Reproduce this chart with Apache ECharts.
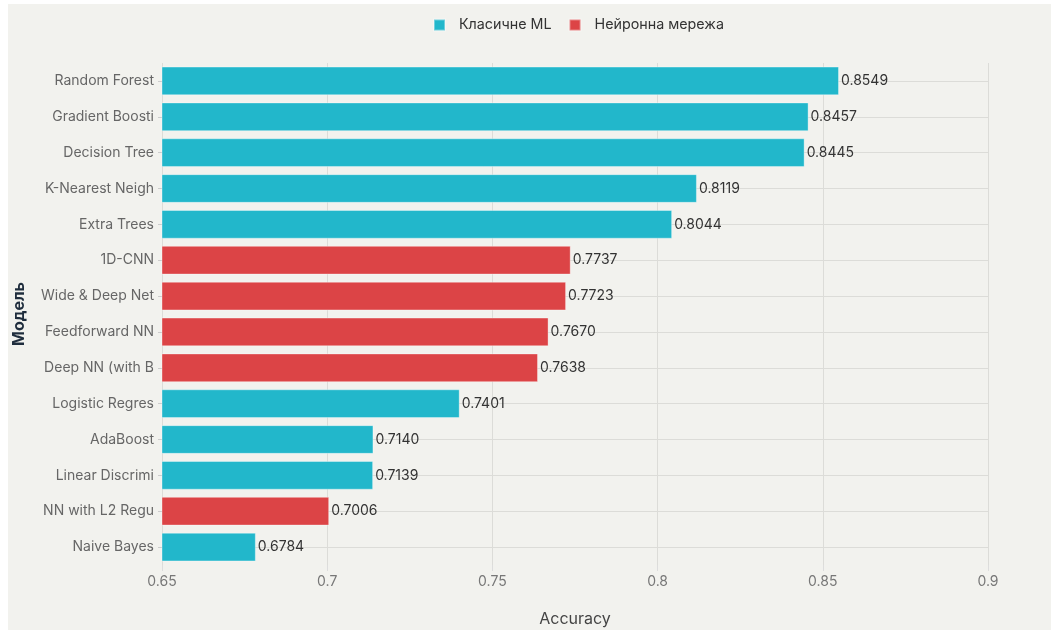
<!DOCTYPE html>
<html>
<head>
<meta charset="utf-8">
<script src="https://cdn.jsdelivr.net/npm/echarts@6/dist/echarts.min.js"></script>
<style>
html,body{margin:0;padding:0;background:#ffffff;}
#wrap{position:relative;width:1051px;height:630px;}
#panel{position:absolute;left:8px;top:4px;right:0;bottom:0;background:#f2f2ee;}
#chart{position:absolute;left:0;top:0;width:1051px;height:630px;}
</style>
</head>
<body>
<div id="wrap"><div id="panel"></div><div id="chart"></div></div>
<script>
const categories = ["Random Forest","Gradient Boosti","Decision Tree","K-Nearest Neigh","Extra Trees","1D-CNN","Wide & Deep Net","Feedforward NN","Deep NN (with B","Logistic Regres","AdaBoost","Linear Discrimi","NN with L2 Regu","Naive Bayes"];
const accuracy = [0.8549,0.8457,0.8445,0.8119,0.8044,0.7737,0.7723,0.7670,0.7638,0.7401,0.7140,0.7139,0.7006,0.6784];
const modelType = ["ML","ML","ML","ML","ML","NN","NN","NN","NN","ML","ML","ML","NN","ML"];
const seriesNames = {ML:"Класичне ML", NN:"Нейронна мережа"};
const xTicks = [0.65,0.7,0.75,0.8,0.85,0.9];

const mlData = accuracy.map((v,i)=> modelType[i]==="ML" ? v : null);
const nnData = accuracy.map((v,i)=> modelType[i]==="NN" ? v : null);

const font = "Inter, 'Noto Sans', sans-serif";
const chart = echarts.init(document.getElementById('chart'), null, {renderer:'canvas'});
const labelCfg = {show:true, position:'right', distance:2, color:'#333', fontSize:14, fontFamily:font,
  formatter: p => p.value == null ? '' : Number(p.value).toFixed(4)};
chart.setOption({
  backgroundColor:'transparent',
  animation:false,
  textStyle:{fontFamily:font},
  legend:{
    top:13, left:428, itemWidth:11, itemHeight:11, itemGap:17, icon:'rect',
    textStyle:{color:'#333', fontSize:14.3, fontFamily:font, padding:[0,0,0,9]},
    data:[seriesNames.ML, seriesNames.NN]
  },
  grid:{left:162, right:63, top:63, bottom:65, containLabel:false, outerBoundsMode:'none'},
  xAxis:{
    type:'value', min:xTicks[0], max:xTicks[xTicks.length-1], interval:0.05,
    name:'Accuracy', nameLocation:'middle', nameGap:46,
    nameTextStyle:{color:'#444', fontSize:16, fontFamily:font},
    axisLine:{show:false},
    axisTick:{show:true, length:6, lineStyle:{color:'#ddd'}},
    axisLabel:{color:'#777', fontSize:14, margin:10, fontFamily:font, formatter: v => String(+v.toFixed(2))},
    splitLine:{show:true, lineStyle:{color:'#dcdcd8', width:1}}
  },
  yAxis:{
    type:'category', data:categories, inverse:true,
    name:'Модель', nameLocation:'middle', nameGap:135, nameRotate:90,
    nameTextStyle:{color:'#1f2d3d', fontSize:16, fontWeight:'bold', fontFamily:font},
    axisLine:{show:false},
    axisTick:{show:true, alignWithLabel:true, length:4, lineStyle:{color:'#ccc'}},
    axisLabel:{color:'#666', fontSize:14, margin:8, fontFamily:font},
    splitLine:{show:true, alignWithLabel:true, lineStyle:{color:'#dcdcd8', width:1}}
  },
  series:[
    {name:seriesNames.ML, type:'bar', data:mlData, barWidth:'80%', barGap:'-100%',
     itemStyle:{color:'#22b7cb', borderColor:'rgba(255,255,255,0.35)', borderWidth:1},
     label:labelCfg},
    {name:seriesNames.NN, type:'bar', data:nnData, barWidth:'80%', barGap:'-100%',
     itemStyle:{color:'#dc4446', borderColor:'rgba(255,255,255,0.35)', borderWidth:1},
     label:labelCfg}
  ]
});
</script>
</body>
</html>
